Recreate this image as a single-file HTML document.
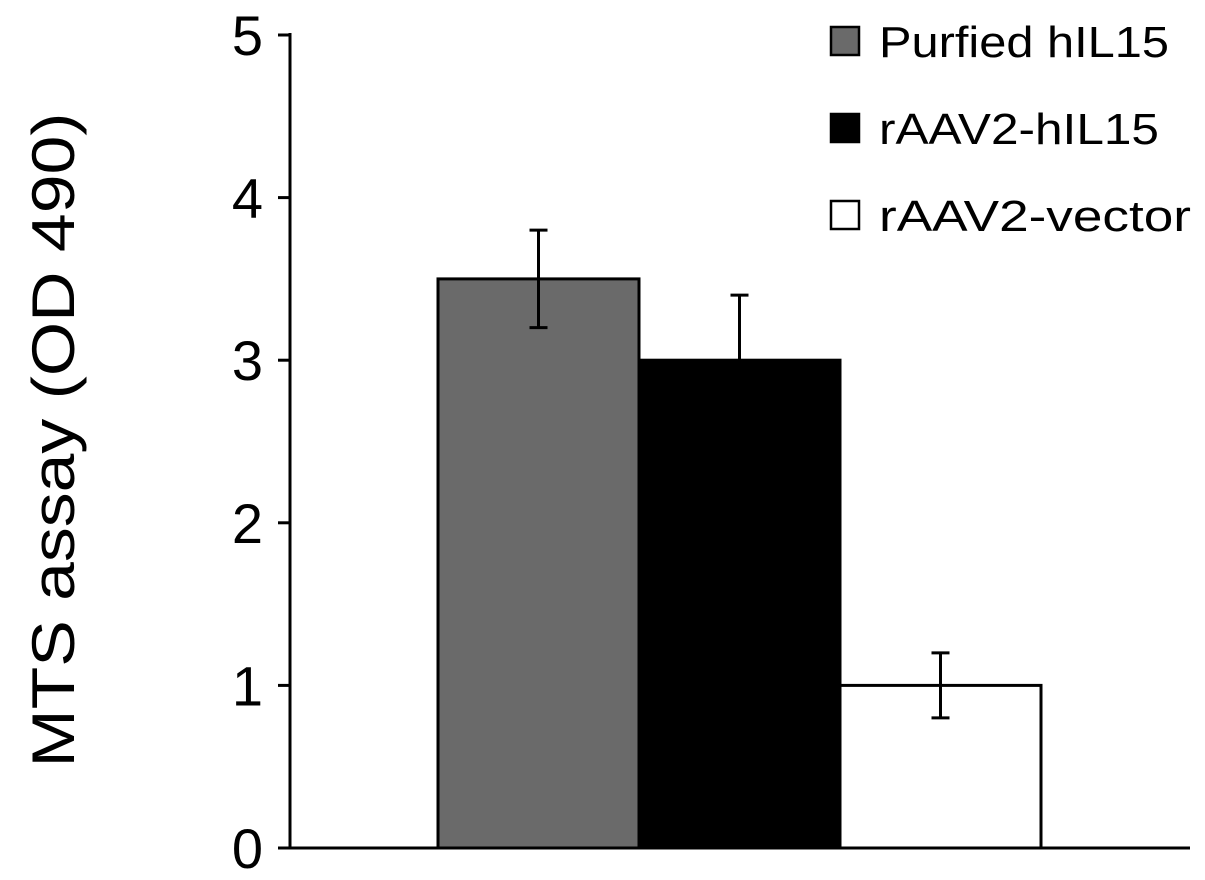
<!DOCTYPE html>
<html><head><meta charset="utf-8"><style>
body{margin:0;background:#fff;}
svg{display:block;font-family:"Liberation Sans",Arial,sans-serif;}
</style></head><body>
<svg id="chart" width="1205" height="880"></svg>
<script>
const categories=["Purfied hIL15","rAAV2-hIL15","rAAV2-vector"];
const values=[3.5,3.0,1.0];
const errors=[0.3,0.4,0.2];
const fills=["#6a6a6a","#000000","#ffffff"];
const yTicks=[0,1,2,3,4,5];
const NS="http://www.w3.org/2000/svg";
const svg=document.getElementById('chart');
const x0=290,y0=848,unit=162.6;
const y=v=>y0-v*unit;
const barX=i=>438+i*201,barW=201;
const legendLen=[290,280,312];
function mk(t,a,p){const e=document.createElementNS(NS,t);for(const k in a)e.setAttribute(k,a[k]);(p||svg).appendChild(e);return e;}
values.forEach((v,i)=>{
 const r=mk('rect',{x:barX(i),y:y(v),width:barW,height:y0-y(v),fill:fills[i],stroke:'#000','stroke-width':3});
 
 
 const cx=barX(i)+barW/2,t=y(v+errors[i]),b=y(v-errors[i]);
 const g=mk('g',{stroke:'#000','stroke-width':3});
 
 
 mk('line',{x1:cx,x2:cx,y1:t,y2:b},g);
 mk('line',{x1:cx-9,x2:cx+9,y1:t,y2:t},g);
 if(fills[i]!=="#000000")mk('line',{x1:cx-9,x2:cx+9,y1:b,y2:b},g);
});
const ax=mk('g',{stroke:'#000','stroke-width':3});


mk('line',{x1:x0,x2:x0,y1:y(5)-2,y2:y0},ax);
mk('line',{x1:x0,x2:1190,y1:y0,y2:y0},ax);
yTicks.forEach(v=>{
 mk('line',{x1:x0-12,x2:x0,y1:y(v),y2:y(v)},ax);
 const t=mk('text',{x:263,y:y(v)+20,'text-anchor':'end','font-size':56,fill:'#000'});
 t.textContent=v;
 
 
});
const yt=mk('text',{x:0,y:0,transform:'translate(74,440) rotate(-90)','text-anchor':'middle','font-size':60,textLength:655,lengthAdjust:'spacingAndGlyphs',fill:'#000'});
yt.textContent='MTS assay  (OD 490)';


categories.forEach((c,i)=>{
 const ly=41+i*87;
 const g=mk('g',{});
 
 
 mk('rect',{x:831,y:ly-14,width:28,height:28,fill:fills[i],stroke:'#000','stroke-width':2.5},g);
 const t=mk('text',{x:879,y:ly+16,'font-size':44,textLength:legendLen[i],lengthAdjust:'spacingAndGlyphs',fill:'#000'},g);
 t.textContent=c;
});
</script>
</body></html>
